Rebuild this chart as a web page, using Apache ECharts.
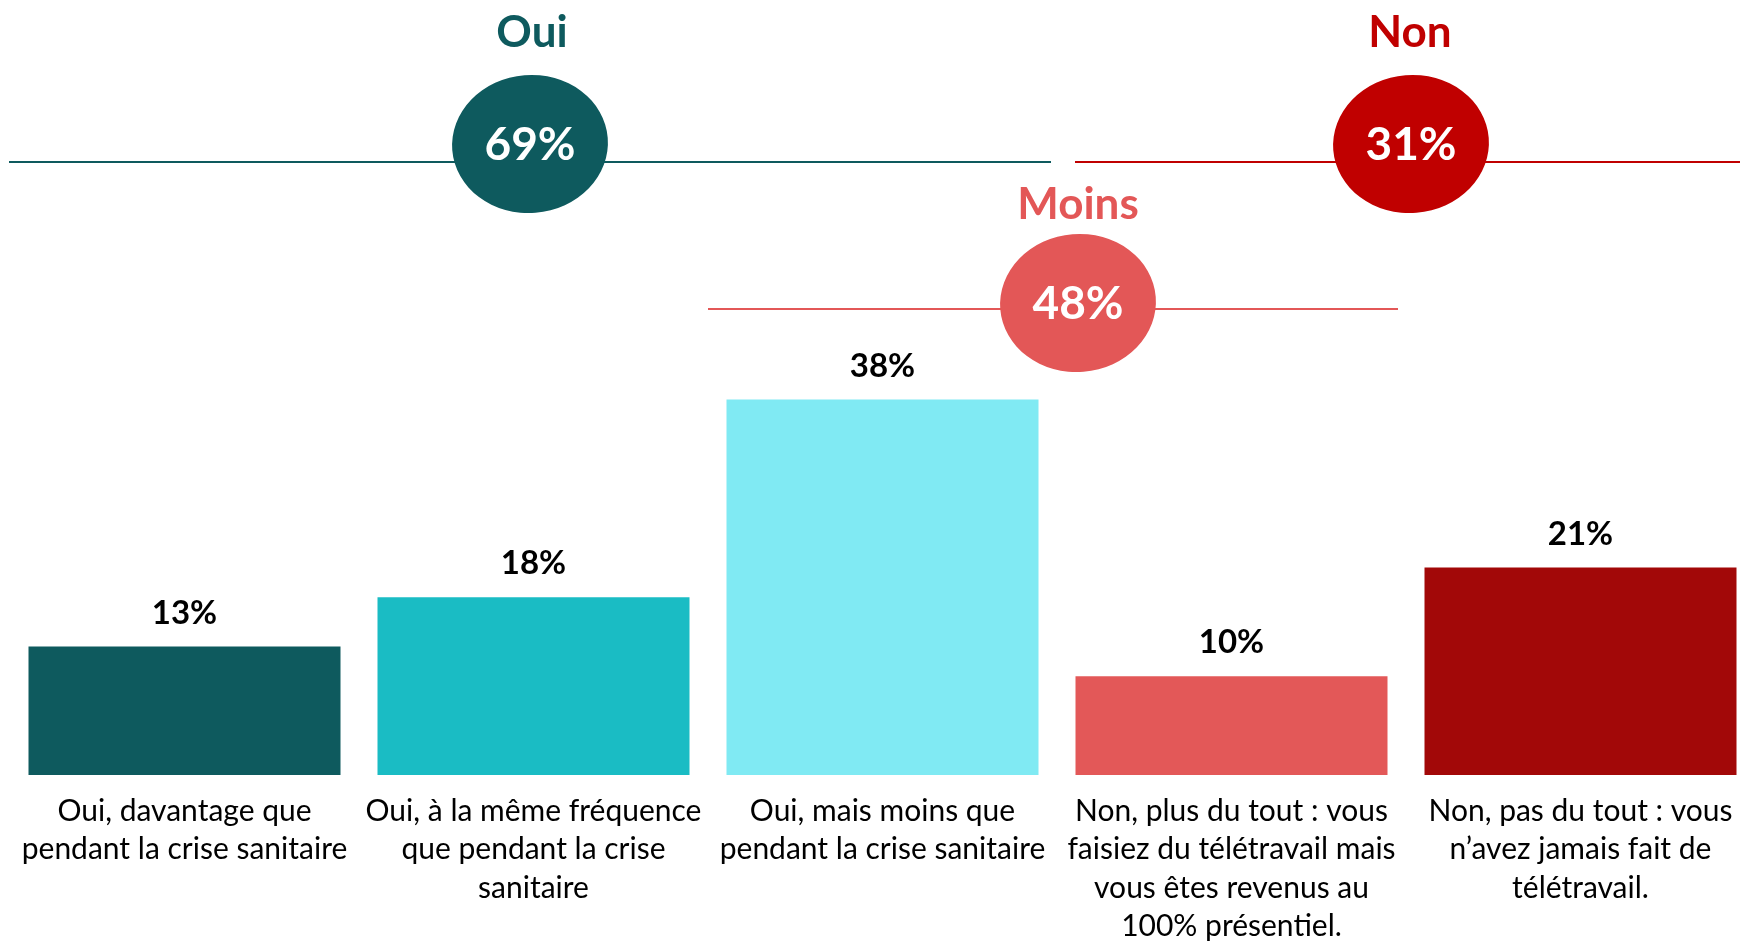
<!DOCTYPE html>
<html><head><meta charset="utf-8">
<script src="https://cdn.jsdelivr.net/npm/echarts@6/dist/echarts.min.js"></script>
<style>html,body{margin:0;padding:0;background:#fff}#c{width:1740px;height:941px}</style>
</head><body><div id="c"></div>
<script>
// ---- data ----
const categories = [
  'Oui, davantage que\npendant la crise sanitaire',
  'Oui, à la même fréquence\nque pendant la crise\nsanitaire',
  'Oui, mais moins que\npendant la crise sanitaire',
  'Non, plus du tout : vous\nfaisiez du télétravail mais\nvous êtes revenus au\n100% présentiel.',
  'Non, pas du tout : vous\nn’avez jamais fait de\ntélétravail.'
];
const values = [13, 18, 38, 10, 21];
const barColors = ['#0E5A5E', '#1ABCC4', '#80EAF3', '#E35858', '#A20808'];
const groupNames = ['Oui', 'Non', 'Moins'];
const groupFirst = [0, 3, 2];
const groupLast = [2, 4, 3];
const groupColors = ['#0E5A5E', '#C00000', '#E35757'];

// ---- layout (pixels) ----
const groupTitleY = [33, 33, 205];
const groupLineY = [162, 162, 309];
const groupCircleY = [144, 144, 303];
const groupLineStartInset = [-1, 18, 0];
const groupLineEndInset = [6, 0, 8];
const groupCircleDx = [0, -4, 25];
const groupTitleDx = [2, -1, 0];
const FONT = 'Lato, "Noto Sans", sans-serif';

const chart = echarts.init(document.getElementById('c'), null, {renderer: 'canvas'});
chart.setOption({
  animation: false,
  backgroundColor: '#fff',
  grid: {left: 10, width: 1745, top: 281, bottom: 166, containLabel: false, outerBoundsMode: 'none'},
  xAxis: {
    type: 'category', data: categories,
    axisLine: {show: false}, axisTick: {show: false},
    axisLabel: {interval: 0, margin: 17, fontFamily: FONT, fontSize: 30, lineHeight: 38.5, color: '#000'}
  },
  yAxis: {type: 'value', min: 0, max: 50, show: false, splitLine: {show: false}},
  series: [{
    type: 'bar', barCategoryGap: '10.6%',
    data: values.map((v, i) => ({value: v, itemStyle: {color: barColors[i]}})),
    label: {show: true, position: 'top', distance: 17, formatter: '{c}%',
      fontFamily: FONT, fontWeight: 'bold', fontSize: 33, color: '#000'}
  }]
});

function drawGroups() {
  const band = chart.convertToPixel({xAxisIndex: 0}, 1) - chart.convertToPixel({xAxisIndex: 0}, 0);
  const els = [];
  groupNames.forEach((name, g) => {
    let total = 0;
    for (let i = groupFirst[g]; i <= groupLast[g]; i++) total += values[i];
    const x1 = chart.convertToPixel({xAxisIndex: 0}, groupFirst[g]) - band / 2 + groupLineStartInset[g];
    const x2 = chart.convertToPixel({xAxisIndex: 0}, groupLast[g]) + band / 2 - groupLineEndInset[g];
    const cx = (x1 + x2) / 2 + groupCircleDx[g];
    const col = groupColors[g];
    els.push({type: 'line', z: 10, shape: {x1: x1, y1: groupLineY[g], x2: x2, y2: groupLineY[g]},
      style: {stroke: col, lineWidth: 2}});
    els.push({type: 'circle', z: 11, x: cx, y: groupCircleY[g], scaleX: 1.13, rotation: 0.08,
      shape: {cx: 0, cy: 0, r: 69}, style: {fill: col}});
    els.push({type: 'text', z: 12, x: cx, y: groupCircleY[g] + 1,
      style: {text: total + '%', fill: '#fff', font: 'bold 46px ' + FONT,
        textAlign: 'center', textVerticalAlign: 'middle', align: 'center', verticalAlign: 'middle'}});
    els.push({type: 'text', z: 12, x: cx + groupTitleDx[g], y: groupTitleY[g],
      style: {text: name, fill: col, font: 'bold 44px ' + FONT,
        textAlign: 'center', textVerticalAlign: 'middle', align: 'center', verticalAlign: 'middle'}});
  });
  chart.setOption({graphic: {elements: els}});
}
drawGroups();
</script></body></html>
